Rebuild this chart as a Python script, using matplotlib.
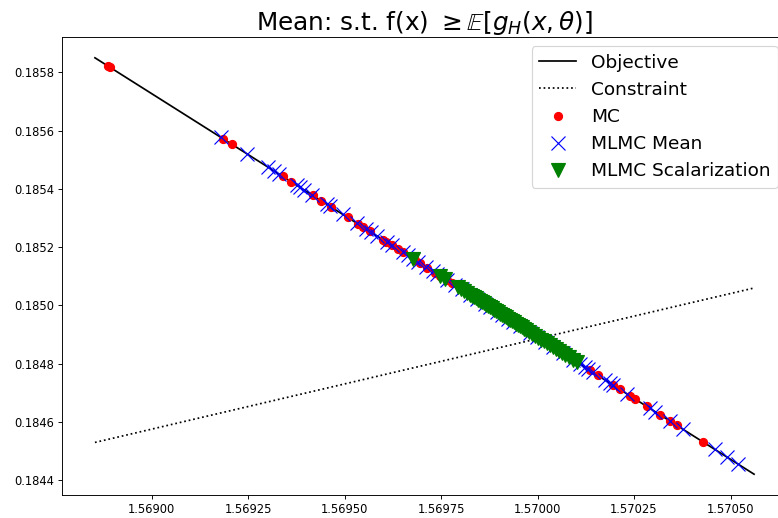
import matplotlib
matplotlib.use("Agg")
import matplotlib.pyplot as plt

# Objective and constraint curves (end points of the plotted range)
obj_x = [1.568853, 1.570561]
obj_y = [0.185850, 0.184421]
con_x = [1.568853, 1.570561]
con_y = [0.184530, 0.185060]

# Monte Carlo solutions
mc_x = [1.568887, 1.568892, 1.569185, 1.569208, 1.569340, 1.569361, 1.569418,
        1.569439, 1.569464, 1.569508, 1.569534, 1.569547, 1.569565, 1.569599,
        1.569607, 1.569622, 1.569638, 1.569651, 1.569682, 1.569695, 1.569713,
        1.569734, 1.569747, 1.569765, 1.569778, 1.569825, 1.569876, 1.569928,
        1.569980, 1.570058, 1.570097, 1.570135, 1.570156, 1.570195, 1.570213,
        1.570239, 1.570252, 1.570283, 1.570317, 1.570343, 1.570361, 1.570428]
mc_y = [0.185822, 0.185817, 0.185573, 0.185553, 0.185443, 0.185425, 0.185378,
        0.185360, 0.185339, 0.185302, 0.185280, 0.185269, 0.185254, 0.185226,
        0.185219, 0.185206, 0.185193, 0.185182, 0.185156, 0.185146, 0.185130,
        0.185113, 0.185102, 0.185087, 0.185076, 0.185037, 0.184994, 0.184951,
        0.184907, 0.184842, 0.184810, 0.184777, 0.184760, 0.184727, 0.184712,
        0.184690, 0.184680, 0.184654, 0.184625, 0.184604, 0.184589, 0.184532]

# Multilevel Monte Carlo, mean formulation
mean_x = [1.569179, 1.569247, 1.569301, 1.569317, 1.569330, 1.569376, 1.569384,
          1.569395, 1.569415, 1.569454, 1.569462, 1.569496, 1.569532, 1.569555,
          1.569568, 1.569584, 1.569610, 1.569622, 1.569651, 1.569664, 1.569677,
          1.569690, 1.569711, 1.569729, 1.569739, 1.569765, 1.569786, 1.569804,
          1.569825, 1.569843, 1.569863, 1.569876, 1.569895, 1.569907, 1.569923,
          1.569936, 1.569954, 1.569980, 1.569998, 1.570019, 1.570040, 1.570065,
          1.570091, 1.570110, 1.570122, 1.570130, 1.570143, 1.570174, 1.570187,
          1.570195, 1.570231, 1.570291, 1.570304, 1.570343, 1.570376, 1.570459,
          1.570490, 1.570519]
mean_y = [0.185577, 0.185521, 0.185475, 0.185462, 0.185451, 0.185412, 0.185406,
          0.185397, 0.185380, 0.185347, 0.185341, 0.185313, 0.185282, 0.185263,
          0.185252, 0.185239, 0.185217, 0.185206, 0.185182, 0.185172, 0.185161,
          0.185150, 0.185133, 0.185117, 0.185109, 0.185087, 0.185070, 0.185055,
          0.185037, 0.185022, 0.185005, 0.184994, 0.184979, 0.184968, 0.184955,
          0.184944, 0.184929, 0.184907, 0.184892, 0.184875, 0.184857, 0.184836,
          0.184814, 0.184799, 0.184788, 0.184781, 0.184771, 0.184745, 0.184734,
          0.184727, 0.184697, 0.184647, 0.184636, 0.184604, 0.184576, 0.184506,
          0.184480, 0.184456]

# Multilevel Monte Carlo, scalarization formulation
scal_x = [1.569677, 1.569747, 1.569760, 1.569793, 1.569801, 1.569809, 1.569817,
          1.569825, 1.569830, 1.569835, 1.569840, 1.569845, 1.569850, 1.569856,
          1.569861, 1.569866, 1.569871, 1.569876, 1.569882, 1.569887, 1.569892,
          1.569897, 1.569902, 1.569907, 1.569913, 1.569918, 1.569923, 1.569928,
          1.569933, 1.569938, 1.569944, 1.569949, 1.569954, 1.569959, 1.569964,
          1.569970, 1.569977, 1.569985, 1.569993, 1.570001, 1.570009, 1.570016,
          1.570024, 1.570032, 1.570040, 1.570047, 1.570055, 1.570063, 1.570071,
          1.570081, 1.570091, 1.570102]
scal_y = [0.185161, 0.185102, 0.185091, 0.185063, 0.185057, 0.185050, 0.185044,
          0.185037, 0.185033, 0.185029, 0.185024, 0.185020, 0.185016, 0.185011,
          0.185007, 0.185003, 0.184998, 0.184994, 0.184990, 0.184985, 0.184981,
          0.184977, 0.184972, 0.184968, 0.184964, 0.184959, 0.184955, 0.184951,
          0.184946, 0.184942, 0.184938, 0.184933, 0.184929, 0.184925, 0.184920,
          0.184916, 0.184909, 0.184903, 0.184896, 0.184890, 0.184883, 0.184877,
          0.184870, 0.184864, 0.184857, 0.184851, 0.184844, 0.184838, 0.184831,
          0.184823, 0.184814, 0.184805]

DPI = 83
fig = plt.figure(figsize=(778 / DPI, 518 / DPI), dpi=DPI)
ax = fig.add_axes([62 / 778, 1 - 495 / 518, (787 - 62) / 778, (495 - 37) / 518])

ax.plot(obj_x, obj_y, color="black", lw=1.5, label="Objective")
ax.plot(con_x, con_y, color="black", ls=":", lw=1.5, label="Constraint")
ax.plot(mc_x, mc_y, "o", color="red", ms=7, ls="none", label="MC")
ax.plot(mean_x, mean_y, "x", color="blue", ms=12, ls="none", label="MLMC Mean")
ax.plot(scal_x, scal_y, "v", color="green", ms=12.5, ls="none",
        label="MLMC Scalarization")

ax.set_title(r"Mean: s.t. f(x) $\geq \mathbb{E}[g_H(x, \theta)]$", fontsize=21.5)
ax.tick_params(labelsize=10)
ax.legend(loc="upper right", fontsize=16)

fig.savefig("out.png", dpi=DPI)
